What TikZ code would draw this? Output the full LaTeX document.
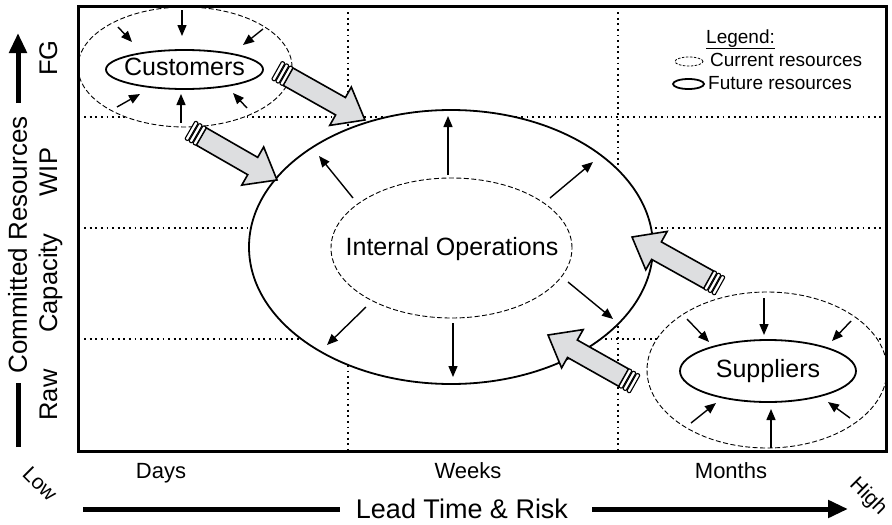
\documentclass[tikz,border=0pt]{standalone}
\usepackage{fontspec}
\setmainfont{Liberation Sans}
\usetikzlibrary{arrows.meta,shapes.geometric}
\definecolor{arrowgray}{RGB}{221,222,224}
\newcommand{\blockarrow}[4]{%
  \pgfmathsetmacro{\baDX}{#3-#1}%
  \pgfmathsetmacro{\baDY}{#4-#2}%
  \pgfmathsetmacro{\baANG}{atan2(-\baDY,\baDX)}%
  \pgfmathsetmacro{\baLEN}{veclen(\baDX,\baDY)}%
  \pgfmathsetmacro{\baNECK}{\baLEN-28}%
  \begin{scope}[shift={(#1,#2)}, rotate=\baANG]
    \draw[bigarrow] (13,-10) -- (\baNECK,-10) -- (\baNECK,-22) -- (\baLEN,0)
      -- (\baNECK,22) -- (\baNECK,10) -- (13,10) -- cycle;
    \draw[capbar] (0,-10.5) rectangle (3.7,10.5);
    \draw[capbar] (4.6,-10.5) rectangle (8.3,10.5);
    \draw[capbar] (9.2,-10.5) rectangle (12.9,10.5);
  \end{scope}}
\begin{document}
\begin{tikzpicture}[x=1pt,y=-1pt,
  frame/.style={line width=3pt},
  gridline/.style={line width=1.8pt, dash pattern=on 1.8pt off 3.8pt},
  curres/.style={ellipse, draw, dash pattern=on 5pt off 2.5pt, line width=0.9pt, fill=white, inner sep=0pt},
  futres/.style={ellipse, draw, line width=1.8pt, inner sep=0pt},
  flow/.style={line width=1.4pt, -{Triangle[length=11pt,width=9pt]}},
  bigarrow/.style={draw, line width=1.6pt, fill=arrowgray, line join=miter},
  capbar/.style={draw, line width=1.1pt, fill=white, rounded corners=1pt},
  axisline/.style={line width=5pt},
  axisarrow/.style={line width=5pt, -{Triangle[length=20pt,width=17pt]}},
  bigtext/.style={font=\fontsize{25}{30}\selectfont},
  rowtext/.style={font=\fontsize{25.5}{30}\selectfont, rotate=90, anchor=base},
  coltext/.style={font=\fontsize{22}{26}\selectfont, anchor=base},
  legtext/.style={font=\fontsize{19}{23}\selectfont, anchor=base west, inner sep=0pt},
]
\useasboundingbox[fill=white] (0,0) rectangle (892,525);

% grid
\coordinate (fNW) at (78.5,6.5);
\coordinate (fSE) at (886.5,451);
\foreach \gx in {348,618} \draw[gridline] (\gx,6.5) -- (\gx,451);
\foreach \gy in {117,228,339} \draw[gridline] (78.5,\gy) -- (886.5,\gy);

% resource ellipses
\node[futres, fill=white, minimum width=404pt, minimum height=274pt] (intOuter) at (451,247) {};
\node[curres, minimum width=241pt, minimum height=140pt] (intInner) at (451.5,248) {};
\node[curres, minimum width=214pt, minimum height=120pt] (custOuter) at (185,67) {};
\node[futres, minimum width=157pt, minimum height=39pt] (custInner) at (184.5,69.5) {};
\node[curres, minimum width=240pt, minimum height=156pt] (supOuter) at (767,370) {};
\node[futres, minimum width=176pt, minimum height=62pt] (supInner) at (768,371) {};

% frame
\draw[frame] (fNW) rectangle (fSE);

% texts
\node[bigtext, anchor=base] (custText) at (184.5,75) {Customers};
\node[bigtext, anchor=base] (intText) at (452,255) {Internal Operations};
\node[bigtext, anchor=base] (supText) at (768,377) {Suppliers};

% legend
\node[legtext] (legTitle) at (706,43) {\underline{Legend:}};
\node[curres, dash pattern=on 2.5pt off 1.5pt, line width=0.8pt, minimum width=28pt, minimum height=9pt] (legCur) at (689,61.5) {};
\node[legtext] (legCurText) at (710,66) {Current resources};
\node[futres, minimum width=31pt, minimum height=10pt] (legFut) at (688.5,84) {};
\node[legtext] (legFutText) at (708,89) {Future resources};

% thin arrows: customers
\draw[flow] (182,10) -- (182,36);
\draw[flow] (118,27) -- (132,42);
\draw[flow] (263,29) -- (243,45);
\draw[flow] (117,107) -- (140,94);
\draw[flow] (181,123) -- (181,94);
\draw[flow] (247,108) -- (233,93);
% thin arrows: internal operations
\draw[flow] (448,175) -- (448,116);
\draw[flow] (353,198) -- (319,156);
\draw[flow] (550,198) -- (593,162);
\draw[flow] (568,282) -- (613,319);
\draw[flow] (453,323) -- (453,377);
\draw[flow] (366,307) -- (327,345);
% thin arrows: suppliers
\draw[flow] (764,298) -- (764,335);
\draw[flow] (687,319) -- (709,342);
\draw[flow] (851,321) -- (832,341);
\draw[flow] (691,423) -- (716,403);
\draw[flow] (771,448) -- (771,409);
\draw[flow] (850,418) -- (828,402);

% block arrows
\blockarrow{276.7}{70.3}{365}{120}
\blockarrow{190}{130}{277}{180}
\blockarrow{720}{286}{632}{237}
\blockarrow{635}{384}{548}{335}

% vertical axis
\node[font=\fontsize{26}{30}\selectfont, rotate=90, anchor=base] (vTitle) at (27,245) {Committed Resources};
\coordinate (vBot) at (18,447);
\coordinate (vBotEnd) at (18,383);
\coordinate (vTopStart) at (18,103);
\coordinate (vTip) at (18,33);
\draw[axisline] (vBot) -- (vBotEnd);
\draw[axisarrow] (vTopStart) -- (vTip);
\node[rowtext] (rFG) at (57,58) {FG};
\node[rowtext] (rWIP) at (57,172) {WIP};
\node[rowtext] (rCap) at (57,283) {Capacity};
\node[rowtext] (rRaw) at (57,395) {Raw};

% horizontal axis
\node[coltext] (cDays) at (161,478) {Days};
\node[coltext] (cWeeks) at (468,478) {Weeks};
\node[coltext] (cMonths) at (731,478) {Months};
\node[font=\fontsize{27}{32}\selectfont, anchor=base] (hTitle) at (462,518) {Lead Time \& Risk};
\coordinate (hStart) at (83,509);
\coordinate (hEnd) at (340,509);
\coordinate (hStart2) at (592,509);
\coordinate (hTip) at (848,509);
\draw[axisline] (hStart) -- (hEnd);
\draw[axisarrow] (hStart2) -- (hTip);
\node[font=\fontsize{21}{25}\selectfont, rotate=-45, inner sep=1pt] (lowText) at (40,484) {Low};
\node[font=\fontsize{21}{25}\selectfont, rotate=-45, inner sep=1pt] (highText) at (868,497) {High};
\end{tikzpicture}
\end{document}
